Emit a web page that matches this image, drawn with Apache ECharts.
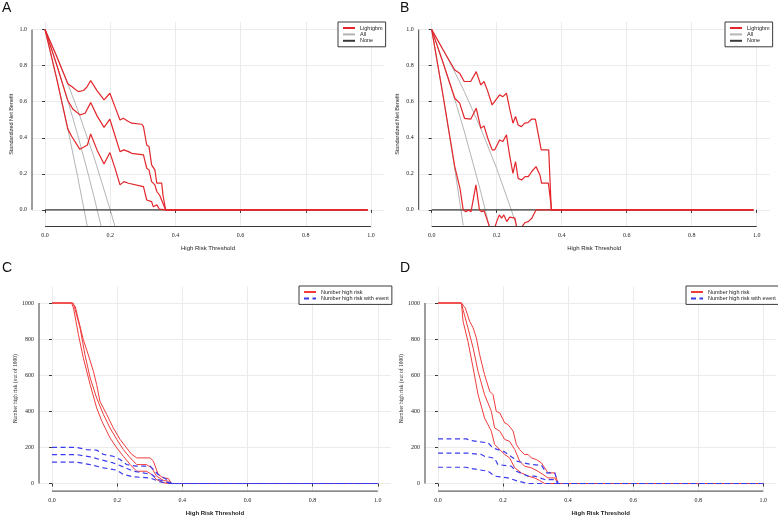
<!DOCTYPE html>
<html>
<head>
<meta charset="utf-8">
<script src="https://cdn.jsdelivr.net/npm/echarts@6/dist/echarts.min.js"></script>
<style>
  html, body { margin: 0; padding: 0; background: #fff; }
  #main { width: 778px; height: 518px; }
</style>
</head>
<body>
<div id="main"></div>
<script>
// tick labels
var thresholdTicks = [0, 0.2, 0.4, 0.6, 0.8, 1.0];
var benefitTicks = [0, 0.2, 0.4, 0.6, 0.8, 1.0];
var countTicks = [0, 200, 400, 600, 800, 1000];

// A: standardized net benefit (training)
var aLgbHigh = [[0,1],[0.035,0.855],[0.07,0.70],[0.085,0.68],[0.102,0.656],[0.118,0.662],[0.128,0.68],[0.14,0.717],[0.16,0.66],[0.181,0.61],[0.199,0.647],[0.215,0.57],[0.23,0.499],[0.24,0.508],[0.256,0.49],[0.266,0.481],[0.297,0.475],[0.302,0.462],[0.312,0.36],[0.319,0.351],[0.327,0.25],[0.337,0.222],[0.343,0.148],[0.358,0.148],[0.362,0.08],[0.37,0],[0.99,0]];
var aLgbMid = [[0,1],[0.035,0.809],[0.07,0.605],[0.085,0.56],[0.107,0.527],[0.123,0.536],[0.14,0.595],[0.16,0.52],[0.181,0.458],[0.199,0.503],[0.215,0.41],[0.23,0.323],[0.242,0.333],[0.256,0.323],[0.266,0.314],[0.302,0.305],[0.312,0.231],[0.319,0.222],[0.327,0.157],[0.337,0.139],[0.343,0.102],[0.352,0.08],[0.358,0.074],[0.37,0],[0.99,0]];
var aLgbLow = [[0,1],[0.035,0.734],[0.07,0.448],[0.082,0.407],[0.107,0.336],[0.13,0.36],[0.14,0.421],[0.16,0.33],[0.181,0.255],[0.199,0.318],[0.215,0.23],[0.23,0.139],[0.242,0.157],[0.256,0.148],[0.302,0.129],[0.312,0.055],[0.327,0.046],[0.332,0.018],[0.343,0.028],[0.351,0.004],[0.37,0],[0.99,0]];
var aAllLow = [[0,1],[0.035,0.734],[0.07,0.448],[0.1,0.185],[0.13,-0.095]];
var aAllMid = [[0,1],[0.035,0.809],[0.07,0.605],[0.1,0.417],[0.13,0.216],[0.15,0.074],[0.172,-0.09]];
var aAllHigh = [[0,1],[0.035,0.855],[0.07,0.699],[0.1,0.556],[0.15,0.294],[0.2,0],[0.216,-0.10]];
var aNone = [[0,0],[0.99,0]];

// B: standardized net benefit (validation)
var bLgbHigh = [[0,1],[0.035,0.888],[0.071,0.776],[0.086,0.758],[0.1,0.712],[0.12,0.712],[0.137,0.767],[0.151,0.693],[0.161,0.712],[0.172,0.66],[0.186,0.582],[0.192,0.573],[0.209,0.638],[0.219,0.628],[0.23,0.647],[0.24,0.56],[0.25,0.481],[0.258,0.518],[0.266,0.471],[0.276,0.462],[0.286,0.481],[0.296,0.484],[0.307,0.503],[0.319,0.503],[0.337,0.333],[0.36,0.333],[0.368,0],[0.99,0]];
var bLgbMid = [[0,1],[0.035,0.816],[0.071,0.619],[0.086,0.592],[0.101,0.508],[0.12,0.503],[0.137,0.564],[0.151,0.453],[0.161,0.466],[0.172,0.40],[0.186,0.333],[0.194,0.333],[0.209,0.388],[0.219,0.379],[0.23,0.416],[0.24,0.3],[0.25,0.203],[0.258,0.268],[0.266,0.175],[0.277,0.166],[0.287,0.185],[0.297,0.185],[0.308,0.213],[0.321,0.24],[0.333,0.194],[0.338,0.148],[0.359,0.148],[0.369,0],[0.99,0]];
var bLgbLow = [[0,1],[0.035,0.633],[0.071,0.24],[0.087,0.12],[0.097,0],[0.106,-0.01],[0.113,0],[0.121,-0.01],[0.136,0.139],[0.147,0],[0.154,-0.01],[0.161,-0.004],[0.179,-0.1],[0.19,-0.12],[0.2,-0.065],[0.208,-0.028],[0.215,-0.046],[0.222,-0.028],[0.231,-0.065],[0.24,-0.04],[0.256,-0.046],[0.263,-0.11],[0.275,-0.1],[0.287,-0.07],[0.297,-0.065],[0.308,-0.046],[0.321,0],[0.99,0]];
var bAllLow = [[0,1],[0.035,0.633],[0.07,0.239],[0.09,0],[0.097,-0.086]];
var bAllMid = [[0,1],[0.035,0.816],[0.07,0.619],[0.1,0.438],[0.15,0.107],[0.18,-0.111]];
var bAllHigh = [[0,1],[0.035,0.888],[0.07,0.768],[0.1,0.658],[0.15,0.456],[0.2,0.23],[0.245,0],[0.262,-0.094]];
var bNone = [[0,0],[0.99,0]];

// C: number high risk out of 1000 (training)
var cRiskOuter = [[0,1000],[0.06,1000],[0.071,982],[0.081,908],[0.096,797],[0.11,720],[0.127,622],[0.137,548],[0.147,456],[0.168,382],[0.188,308],[0.209,244],[0.229,197],[0.245,161],[0.26,142],[0.301,142],[0.311,124],[0.326,50],[0.342,31],[0.357,28],[0.367,0],[1,0]];
var cRiskMid = [[0,1000],[0.065,1000],[0.071,963],[0.086,862],[0.101,714],[0.117,585],[0.137,474],[0.158,382],[0.178,308],[0.199,244],[0.219,188],[0.24,142],[0.26,105],[0.29,105],[0.306,87],[0.321,41],[0.342,17],[0.357,13],[0.367,0],[1,0]];
var cRiskInner = [[0,1000],[0.06,1000],[0.066,972],[0.081,825],[0.096,696],[0.117,548],[0.137,419],[0.153,345],[0.178,253],[0.199,197],[0.219,151],[0.24,105],[0.26,68],[0.29,68],[0.306,50],[0.321,22],[0.342,4],[0.36,0],[1,0]];
var cEventHigh = [[0,200],[0.076,200],[0.106,188],[0.137,185],[0.158,161],[0.188,151],[0.209,133],[0.229,105],[0.26,96],[0.301,96],[0.326,50],[0.352,22],[0.367,0],[1,0]];
var cEventMid = [[0,160],[0.076,160],[0.117,148],[0.147,133],[0.188,114],[0.219,92],[0.25,68],[0.28,59],[0.306,50],[0.326,22],[0.367,0],[1,0]];
var cEventLow = [[0,118],[0.076,118],[0.117,105],[0.158,87],[0.199,74],[0.219,50],[0.25,37],[0.301,31],[0.332,9],[0.367,0],[1,0]];

// D: number high risk out of 1000 (validation)
var dRiskOuter = [[0,1000],[0.072,1000],[0.084,972],[0.097,899],[0.108,862],[0.118,806],[0.128,714],[0.143,603],[0.159,511],[0.169,493],[0.179,400],[0.19,391],[0.205,336],[0.215,327],[0.231,290],[0.241,216],[0.251,188],[0.266,161],[0.277,161],[0.287,142],[0.302,133],[0.318,114],[0.328,87],[0.338,59],[0.359,59],[0.369,0],[1,0]];
var dRiskMid = [[0,1000],[0.072,1000],[0.077,963],[0.092,862],[0.108,751],[0.123,622],[0.143,493],[0.164,400],[0.174,308],[0.19,290],[0.205,244],[0.22,234],[0.236,188],[0.251,124],[0.266,96],[0.287,87],[0.307,68],[0.323,50],[0.338,31],[0.359,31],[0.369,0],[1,0]];
var dRiskInner = [[0,1000],[0.072,1000],[0.077,899],[0.092,788],[0.108,640],[0.123,493],[0.143,363],[0.164,290],[0.174,216],[0.19,188],[0.205,161],[0.22,142],[0.236,87],[0.256,59],[0.277,41],[0.297,31],[0.312,17],[0.328,0],[1,0]];
var dEventHigh = [[0,247],[0.087,247],[0.102,238],[0.154,225],[0.169,197],[0.205,175],[0.231,142],[0.241,124],[0.287,105],[0.318,101],[0.333,59],[0.359,59],[0.369,0],[1,0]];
var dEventMid = [[0,168],[0.092,168],[0.133,161],[0.143,151],[0.174,140],[0.184,105],[0.225,96],[0.241,68],[0.277,41],[0.297,41],[0.328,22],[0.359,22],[0.369,0],[1,0]];
var dEventLow = [[0,90],[0.087,90],[0.102,83],[0.154,68],[0.174,41],[0.215,31],[0.246,13],[0.277,0],[1,0]];

var RED = '#e3262b';
var RED2 = '#f03c3c';
var GREY = '#b4b4b4';
var DARK = '#3a3a3a';
var BLUE = '#3b3bf0';

var xMin = -0.04, xMax = 1.04;
var nbMin = -0.092, nbMax = 1.042;
var nMin = -42, nMax = 1092;

function curve(name, data, idx, color, width, dash) {
  return {
    name: name,
    type: 'line',
    xAxisIndex: idx,
    yAxisIndex: idx,
    data: data,
    symbol: 'none',
    silent: true,
    lineStyle: {color: color, width: width, type: dash || 'solid'},
    itemStyle: {color: color}
  };
}

// R style axis line: only from first to last tick
function axisLine(data, idx) {
  var s = curve('', data, idx, DARK, 1);
  s.clip = false;
  return s;
}

function xAxisFor(idx, bold) {
  return {
    type: 'value', gridIndex: idx, min: xMin, max: xMax,
    name: 'High Risk Threshold', nameLocation: 'middle', nameGap: 19,
    nameTextStyle: {fontFamily: 'Liberation Sans', fontSize: 6, color: '#222', fontWeight: bold ? 'bold' : 'normal'},
    axisLine: {show: false},
    axisTick: {show: true, customValues: thresholdTicks, length: 3, lineStyle: {color: DARK}},
    axisLabel: {customValues: thresholdTicks, margin: 6, fontFamily: 'Liberation Serif', fontSize: 6, color: '#222',
      formatter: function (v) { return v.toFixed(1); }},
    splitLine: {show: true, lineStyle: {color: '#ebebeb', width: 1}}
  };
}

function yAxisFor(idx, counts) {
  var ticks = counts ? countTicks : benefitTicks;
  return {
    type: 'value', gridIndex: idx,
    min: counts ? nMin : nbMin, max: counts ? nMax : nbMax,
    name: counts ? 'Number high risk (out of 1000)' : 'Standardized Net Benefit',
    nameLocation: 'middle', nameGap: counts ? 19 : 18,
    nameTextStyle: {fontFamily: counts ? 'Liberation Serif' : 'Liberation Sans', fontSize: 5.5, color: '#222'},
    axisLine: {show: false},
    axisTick: {show: true, customValues: ticks, length: 3, lineStyle: {color: DARK}},
    axisLabel: {customValues: ticks, margin: 5, fontFamily: 'Liberation Serif', fontSize: 6, color: '#222',
      formatter: function (v) { return counts ? String(v) : v.toFixed(1); }},
    splitLine: {show: true, lineStyle: {color: '#ebebeb', width: 1}}
  };
}

function legendFor(left, top, names) {
  return {
    left: left, top: top, orient: 'vertical', data: names,
    itemWidth: 12, itemHeight: 6, itemGap: 0.4,
    padding: [3, 3, 3, 4],
    borderColor: DARK, borderWidth: 1, backgroundColor: '#fff',
    itemStyle: {opacity: 0},
    textStyle: {fontFamily: 'Liberation Sans', fontSize: 5.5, lineHeight: 6, color: '#222'},
    selectedMode: false
  };
}

function panelTitle(text, left, top) {
  return {text: text, left: left, top: top, padding: 0,
    textStyle: {fontFamily: 'Liberation Sans', fontSize: 14, fontWeight: 'normal', color: '#111'}};
}

var nbNames = ['Lightgbm', 'All', 'None'];
var riskNames = ['Number high risk', 'Number high risk with event'];

var series = [
  curve('All', aAllLow, 0, GREY, 1),
  curve('All', aAllMid, 0, GREY, 1),
  curve('All', aAllHigh, 0, GREY, 1),
  curve('None', aNone, 0, DARK, 1.2),
  curve('Lightgbm', aLgbHigh, 0, RED, 1.2),
  curve('Lightgbm', aLgbMid, 0, RED, 1.2),
  curve('Lightgbm', aLgbLow, 0, RED, 1.2),

  curve('All', bAllLow, 1, GREY, 1),
  curve('All', bAllMid, 1, GREY, 1),
  curve('All', bAllHigh, 1, GREY, 1),
  curve('None', bNone, 1, DARK, 1.2),
  curve('Lightgbm', bLgbHigh, 1, RED, 1.2),
  curve('Lightgbm', bLgbMid, 1, RED, 1.2),
  curve('Lightgbm', bLgbLow, 1, RED, 1.2),

  curve('Number high risk', cRiskOuter, 2, RED2, 1),
  curve('Number high risk', cRiskMid, 2, RED2, 1),
  curve('Number high risk', cRiskInner, 2, RED2, 1),
  curve('Number high risk with event', cEventHigh, 2, BLUE, 1.2, [5, 3.5]),
  curve('Number high risk with event', cEventMid, 2, BLUE, 1.2, [5, 3.5]),
  curve('Number high risk with event', cEventLow, 2, BLUE, 1.2, [5, 3.5]),

  curve('Number high risk', dRiskOuter, 3, RED2, 1),
  curve('Number high risk', dRiskMid, 3, RED2, 1),
  curve('Number high risk', dRiskInner, 3, RED2, 1),
  curve('Number high risk with event', dEventHigh, 3, BLUE, 1.2, [5, 3.5]),
  curve('Number high risk with event', dEventMid, 3, BLUE, 1.2, [5, 3.5]),
  curve('Number high risk with event', dEventLow, 3, BLUE, 1.2, [5, 3.5])
];

// axis lines for each panel
[0, 1].forEach(function (i) {
  series.push(axisLine([[thresholdTicks[0], nbMin], [thresholdTicks[5], nbMin]], i));
  series.push(axisLine([[xMin, benefitTicks[0]], [xMin, benefitTicks[5]]], i));
});
[2, 3].forEach(function (i) {
  series.push(axisLine([[thresholdTicks[0], nMin], [thresholdTicks[5], nMin]], i));
  series.push(axisLine([[xMin, countTicks[0]], [xMin, countTicks[5]]], i));
});

var option = {
  backgroundColor: '#fff',
  animation: false,
  title: [
    panelTitle('A', 2, 1),
    panelTitle('B', 400, 1),
    panelTitle('C', 2, 261),
    panelTitle('D', 400, 261)
  ],
  legend: [
    legendFor(338, 22, nbNames),
    legendFor(725, 22, nbNames),
    legendFor(299, 286, riskNames),
    legendFor(686, 286, riskNames)
  ],
  grid: [
    {left: 32, top: 22, width: 352, height: 204.5},
    {left: 418.7, top: 22, width: 351, height: 204.5},
    {left: 39, top: 286.4, width: 351.8, height: 204.7},
    {left: 425, top: 286.4, width: 351.3, height: 204.7}
  ],
  xAxis: [xAxisFor(0, false), xAxisFor(1, false), xAxisFor(2, true), xAxisFor(3, true)],
  yAxis: [yAxisFor(0, false), yAxisFor(1, false), yAxisFor(2, true), yAxisFor(3, true)],
  series: series
};

var chart = echarts.init(document.getElementById('main'), null, {renderer: 'canvas'});
chart.setOption(option);
</script>
</body>
</html>
